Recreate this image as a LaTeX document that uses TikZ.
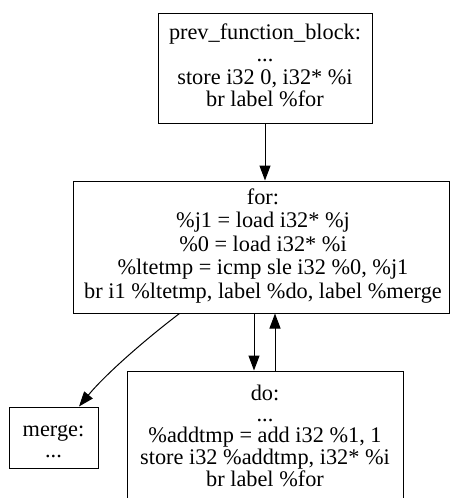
\documentclass[tikz,border=0pt]{standalone}
\usepackage{fontspec}
\setmainfont{Liberation Serif}
\usetikzlibrary{arrows.meta}

% multi-line block text; first row is the baseline
\newcommand\blocktext[2]{{\fontsize{22.3}{#1}\selectfont
  \begin{tabular}[t]{@{}c@{}}#2\end{tabular}}}

\begin{document}
\begin{tikzpicture}[x=1pt,y=-1pt,
  bb/.style={draw, line width=1pt, inner sep=0pt},
  txt/.style={anchor=base, inner sep=0pt},
  edge/.style={line width=1pt, -{Triangle[length=15pt,width=11pt]}}]
\useasboundingbox (0,0) rectangle (451,498);
\clip (0,0) rectangle (451,498);

% basic blocks
\node[bb, minimum width=214pt, minimum height=110pt] (prev) at (265,68) {};
\node[txt] (prevtxt) at (265,39) {\blocktext{22.5}{prev\_function\_block:\\...\\store i32 0, i32* \%i\\br label \%for}};

\node[bb, minimum width=376pt, minimum height=132pt] (for) at (261,247) {};
\node[txt] (fortxt) at (263,204) {\blocktext{23.5}{for:\\\%j1 = load i32* \%j\\\%0 = load i32* \%i\\\%ltetmp = icmp sle i32 \%0, \%j1\\br i1 \%ltetmp, label \%do, label \%merge}};

\node[bb, minimum width=89pt, minimum height=61pt] (merge) at (53.5,437.5) {};
\node[txt] (mergetxt) at (53.5,436) {\blocktext{21}{merge:\\...}};

\node[bb, minimum width=276pt, minimum height=145pt] (do) at (265,443.5) {};
\node[txt] (dotxt) at (265,400) {\blocktext{21}{do:\\...\\\%addtmp = add i32 \%1, 1\\store i32 \%addtmp, i32* \%i\\br label \%for}};

% control-flow edges
\draw[edge] (prev.south) -- (prev.south |- for.north);
\draw[edge] ([xshift=107pt]for.south west) .. controls (142,342) and (104,376) .. ([xshift=25.5pt]merge.north);
\draw[edge] ([xshift=-11pt]do.north |- for.south) -- ([xshift=-11pt]do.north);
\draw[edge] ([xshift=10pt]do.north) -- ([xshift=10pt]do.north |- for.south);
\end{tikzpicture}
\end{document}
